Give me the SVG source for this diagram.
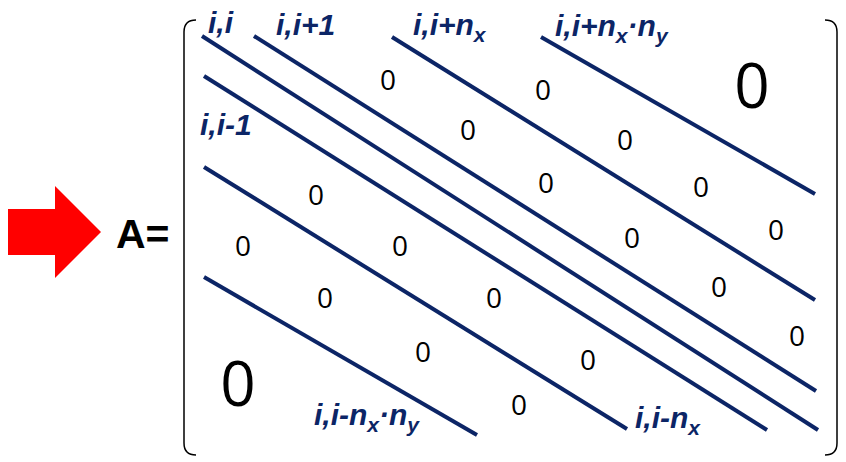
<svg xmlns="http://www.w3.org/2000/svg" width="846" height="462" viewBox="0 0 846 462">
<style>
.d{stroke:#0c2566;stroke-width:4;fill:none;stroke-linecap:butt}
.z{font-family:"Open Sans","Liberation Sans",sans-serif;font-size:28px;fill:#000;text-anchor:middle}
.bz{font-family:"Open Sans","Liberation Sans",sans-serif;font-size:62px;fill:#000;text-anchor:middle}
.lb{font-family:"Liberation Sans",Arial,sans-serif;font-size:30px;font-weight:bold;font-style:italic;fill:#0c2566}
.sb{font-size:21px}
.br{stroke:#000;stroke-width:1.5;fill:none}
</style>
<rect width="846" height="462" fill="#fff"/>
<g id="arrow"><polygon points="8,209 55,209 55,186 101,232 55,278 55,255 8,255" fill="#ff0000"/></g>
<g id="label-A"><text x="116" y="248" font-family="Liberation Sans,Arial,sans-serif" font-size="41" font-weight="bold" fill="#000">A=</text></g>
<g id="brackets">
<path class="br" d="M196,20 Q184,20 184,32 L184,443 Q184,455 196,455"/>
<path class="br" d="M825,20 Q837,20 837,32 L837,443 Q837,455 825,455"/>
</g>
<g id="diagonals">
<line class="d" x1="202" y1="36" x2="818" y2="430"/>
<line class="d" x1="254" y1="36" x2="816" y2="391"/>
<line class="d" x1="392" y1="37" x2="815" y2="300"/>
<line class="d" x1="541" y1="37" x2="815" y2="194"/>
<line class="d" x1="204" y1="76" x2="767" y2="430"/>
<line class="d" x1="204" y1="167" x2="627" y2="429"/>
<line class="d" x1="204" y1="277" x2="477" y2="435"/>
</g>
<g id="labels">
<text class="lb" x="208" y="33">i,i</text>
<text class="lb" x="276" y="35">i,i+1</text>
<text class="lb" x="413" y="35">i,i+n<tspan class="sb" dy="7">x</tspan></text>
<text class="lb" x="555" y="36">i,i+n<tspan class="sb" dy="7">x</tspan><tspan dy="-7">·n</tspan><tspan class="sb" dy="7">y</tspan></text>
<text class="lb" x="200" y="135">i,i-1</text>
<text class="lb" x="314" y="425">i,i-n<tspan class="sb" dy="7">x</tspan><tspan dy="-7">·n</tspan><tspan class="sb" dy="7">y</tspan></text>
<text class="lb" x="635" y="428">i,i-n<tspan class="sb" dy="7">x</tspan></text>
</g>
<g id="zeros">
<text class="z" x="388" y="90">0</text>
<text class="z" x="543" y="100">0</text>
<text class="z" x="468" y="140">0</text>
<text class="z" x="625" y="150">0</text>
<text class="z" x="316" y="205">0</text>
<text class="z" x="546" y="193">0</text>
<text class="z" x="701" y="197">0</text>
<text class="z" x="243" y="256">0</text>
<text class="z" x="400" y="256">0</text>
<text class="z" x="632" y="248">0</text>
<text class="z" x="776" y="240">0</text>
<text class="z" x="325" y="308">0</text>
<text class="z" x="494" y="308">0</text>
<text class="z" x="719" y="297">0</text>
<text class="z" x="797" y="346">0</text>
<text class="z" x="423" y="362">0</text>
<text class="z" x="588" y="370">0</text>
<text class="z" x="519" y="415">0</text>
<text class="bz" x="752" y="108">0</text>
<text class="bz" x="238" y="406">0</text>
</g>
</svg>
